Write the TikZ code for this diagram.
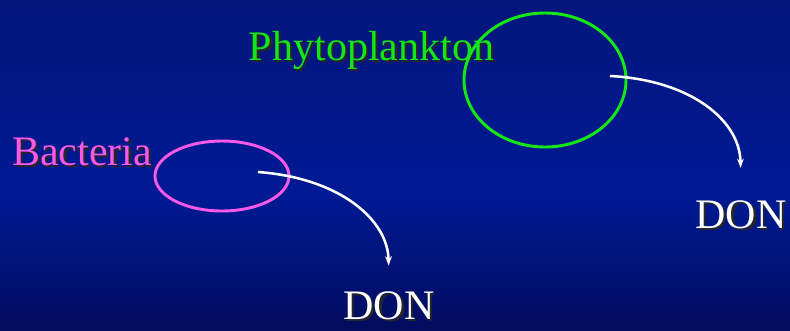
\documentclass[tikz,border=0pt]{standalone}
\usepackage{fontspec}
\setmainfont{Liberation Serif}
\usetikzlibrary{arrows.meta,shapes.geometric}

\definecolor{bgtop}{RGB}{4, 22, 124}
\definecolor{bgmid}{RGB}{0, 26, 148}
\definecolor{bgbot}{RGB}{2, 12, 94}
\definecolor{phgreen}{RGB}{20, 232, 20}
\definecolor{bapink}{RGB}{250, 88, 230}

% text with a soft drop shadow
\newcommand{\shtext}[2]{\makebox[0pt][l]{\hspace{1.8pt}\raisebox{-1.8pt}{\color{black!85}#2}}\textcolor{#1}{#2}}

\begin{document}
\begin{tikzpicture}[x=0.75pt, y=-0.75pt, font=\fontsize{31.5}{38}\selectfont,
    lbl/.style={anchor=base, inner sep=0pt},
    cell/.style={ellipse, line width=2.2pt, inner sep=0pt},
    flow/.style={white, line width=1.9pt, -{Stealth[length=7pt, width=5pt]}}]

  % background, brightest a bit below the middle
  \shade[top color=bgtop, bottom color=bgmid] (0,0) rectangle (790,195);
  \shade[top color=bgmid, bottom color=bgbot] (0,194.5) rectangle (790,330);
  \useasboundingbox (0,0) rectangle (790,330);

  % labels
  \foreach \n/\x/\y/\c/\t in {phyto/371.5/60/phgreen/Phytoplankton, bact/82/165/bapink/Bacteria,
                              donp/741/228/white/DON, donb/389/319/white/DON} {
    \node[lbl] (\n lbl) at (\x,\y) {\shtext{\c}{\t}};
  }

  % cells
  \node[cell, draw=phgreen, minimum width=121.5pt, minimum height=100.5pt] (phytocell) at (545,80) {};
  \node[cell, draw=bapink, minimum width=100.5pt, minimum height=52.5pt] (bactcell) at (222,176) {};

  % release of DON
  \coordinate (phytosrc) at (610,76);
  \coordinate (bactsrc) at (258,172);
  \draw[flow, shorten >=24pt] (phytosrc) .. controls (690,80) and (740,120) .. (donplbl.north);
  \draw[flow, shorten >=19pt] (bactsrc) .. controls (340,178) and (388,220) .. (donblbl.north);
\end{tikzpicture}
\end{document}
